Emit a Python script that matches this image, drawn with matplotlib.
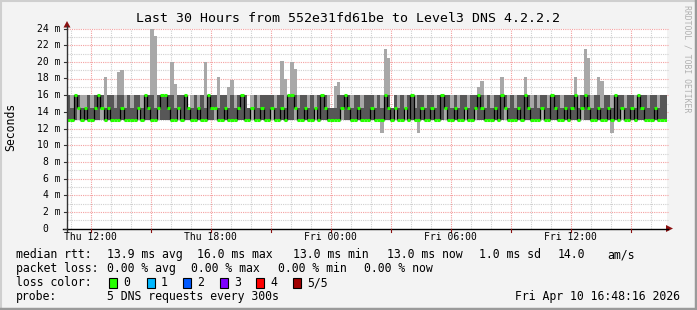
import datetime as dt
import numpy as np
import matplotlib
matplotlib.use("Agg")
import matplotlib.pyplot as plt
from matplotlib.lines import Line2D
from matplotlib.patches import Polygon, Rectangle

# 30 hours, one value every 10 minutes (ms)
start = dt.datetime(2026, 4, 9, 10, 48, 16)
hours = 30

# upper edge of the outer smoke band (slowest ping)
hi = [16, 16, 16, 16, 16, 16, 16, 16, 16, 16, 16, 18.2, 16, 16, 16, 18.8, 19.0, 16, 16, 16,
      16, 16, 16, 16, 16, 24.0, 23.1, 16, 16, 16,
      16, 20.0, 17.4, 16, 16, 16, 14.5, 16, 16, 16, 16, 20.0, 16, 16, 16, 18.2, 16, 16, 17.0, 17.8,
      16, 16, 16, 16, 14.5, 16, 16, 16, 16, 16,
      16, 16, 16, 16, 20.1, 17.9, 16, 20.0, 19.1, 16, 16, 16, 16, 16, 16, 16, 16, 16, 16, 14.5,
      17.1, 17.6, 16, 16, 16, 16, 16, 16, 16, 16,
      16, 16, 16, 16, 16, 21.6, 20.5, 14.5, 16, 16, 16, 16, 16, 16, 16, 16, 16, 16, 16, 16,
      16, 16, 16, 16, 16, 16, 16, 16, 16, 16,
      16, 16, 16, 17.0, 17.7, 16, 16, 16, 16, 16, 18.2, 16, 16, 16, 16, 16, 16, 18.2, 16, 16,
      16, 16, 16, 16, 16, 16, 16, 16, 16, 16,
      16, 16, 18.2, 16, 16, 21.6, 20.5, 16, 16, 18.2, 17.7, 16, 16, 16, 16, 16, 16, 16, 16, 16,
      16, 16, 16, 16, 16, 16, 16, 16, 16, 16]

# upper edge of the inner band (4th ping)
up = [16, 14.5, 16, 16, 14.5, 14.5, 16, 14.5, 16, 16, 16, 14.5, 16, 16, 14.5, 16, 16, 14.5, 16, 14.5,
      16, 16, 14.5, 16, 16, 16, 14.5, 16, 16, 16,
      16, 16, 14.5, 16, 16, 16, 14.5, 14.5, 16, 14.5, 16, 14.5, 16, 16, 16, 14.5, 16, 16, 14.5, 16,
      14.5, 16, 16, 16, 14.5, 14.5, 16, 14.5, 16, 16,
      16, 16, 14.5, 16, 16, 14.5, 16, 16, 16, 14.5, 16, 16, 14.5, 16, 14.5, 16, 16, 16, 14.5, 14.5,
      14.5, 16, 16, 16, 16, 14.5, 16, 16, 14.5, 16,
      16, 16, 14.5, 16, 14.5, 16, 16, 14.5, 16, 14.5, 16, 14.5, 16, 16, 14.5, 16, 16, 14.5, 16, 16,
      14.5, 16, 16, 16, 16, 14.5, 16, 14.5, 16, 16,
      14.5, 16, 16, 16, 16, 14.5, 16, 14.5, 16, 16, 16, 16, 14.5, 16, 14.5, 16, 16, 16, 16, 14.5,
      16, 14.5, 16, 16, 14.5, 16, 16, 16, 14.5, 16,
      16, 16, 16, 14.5, 16, 16, 16, 14.5, 16, 16, 14.5, 16, 16, 14.5, 16, 16, 16, 14.5, 16, 16,
      14.5, 16, 16, 16, 14.5, 16, 16, 14.5, 16, 16]

# median rtt
med = [13, 13, 16, 14.5, 13, 14.5, 13, 13, 14.5, 16, 14.5, 13, 14.5, 13, 13, 13, 14.5, 13, 13, 13,
       13, 14.5, 13, 16, 14.5, 13, 13, 14.5, 16, 16,
       14.5, 13, 13, 14.5, 13, 16, 14.5, 13, 13, 14.5, 13, 13, 16, 14.5, 14.5, 13, 13, 14.5, 13, 13,
       13, 14.5, 16, 13, 13, 14.5, 13, 13, 14.5, 13,
       13, 14.5, 13, 13, 14.5, 13, 16, 16, 14.5, 13, 13, 14.5, 13, 13, 14.5, 13, 16, 14.5, 13, 13,
       13, 13, 14.5, 16, 14.5, 13, 13, 14.5, 13, 13,
       13, 14.5, 13, 13, 13, 16, 14.5, 13, 14.5, 13, 13, 14.5, 13, 16, 13, 13, 14.5, 13, 13, 14.5,
       13, 13, 16, 14.5, 13, 13, 14.5, 13, 13, 14.5,
       13, 13, 14.5, 16, 14.5, 13, 13, 13, 14.5, 13, 16, 14.5, 13, 13, 13, 14.5, 13, 16, 14.5, 13,
       13, 13, 14.5, 13, 13, 16, 14.5, 13, 13, 14.5,
       13, 14.5, 16, 13, 14.5, 16, 14.5, 13, 13, 14.5, 13, 13, 14.5, 13, 16, 13, 14.5, 13, 13, 14.5,
       13, 16, 14.5, 13, 13, 13, 14.5, 13, 13, 13]

# lower edge of the inner band (2nd ping)
dn = [13, 13, 13, 14.5, 13, 13, 13, 13, 13, 13, 14.5, 13, 13, 13, 13, 13, 13, 13, 13, 13,
      13, 14.5, 13, 13, 13, 13, 13, 14.5, 13, 13,
      13, 13, 13, 14.5, 13, 13, 13, 13, 13, 13, 13, 13, 13, 13, 14.5, 13, 13, 13, 13, 13,
      13, 13, 13, 13, 13, 14.5, 13, 13, 13, 13,
      13, 14.5, 13, 13, 13, 13, 13, 13, 14.5, 13, 13, 13, 13, 13, 14.5, 13, 13, 13, 13, 13,
      13, 13, 14.5, 13, 13, 13, 13, 13, 13, 13,
      13, 13, 13, 13, 13, 13, 13, 13, 14.5, 13, 13, 14.5, 13, 13, 13, 13, 13, 13, 13, 13,
      13, 13, 13, 14.5, 13, 13, 13, 13, 13, 14.5,
      13, 13, 14.5, 13, 13, 13, 13, 13, 13, 13, 13, 14.5, 13, 13, 13, 13, 13, 13, 13, 13,
      13, 13, 14.5, 13, 13, 13, 13, 13, 13, 13,
      13, 13, 13, 13, 14.5, 13, 13, 13, 13, 13, 13, 13, 13, 13, 13, 13, 14.5, 13, 13, 13,
      13, 13, 13, 13, 13, 13, 13, 13, 13, 13]

# lower edge of the outer band (fastest ping)
lo = [13] * 94 + [11.5] + [13] * 10 + [11.5] + [13] * 57 + [11.5] + [13] * 16

loss_labels = ["0", "1", "2", "3", "4", "5/5"]
loss_colors = ["#26ff00", "#00b8ff", "#0059ff", "#7e00ff", "#ff0000", "#a00000"]

W, H = 697, 310
X0, X1, Y0, Y1 = 67, 667, 228.5, 28.5


def fx(x):
    return x / W


def fy(y):
    return 1 - y / H


mono = "DejaVu Sans Mono"
fig = plt.figure(figsize=(W / 100, H / 100), dpi=100, facecolor="#f3f3f3")
ax = fig.add_axes([fx(X0), fy(Y0), (X1 - X0) / W, (Y0 - Y1) / H])
ax.set_facecolor("white")
for s in ax.spines.values():
    s.set_visible(False)
ax.set_xticks([])
ax.set_yticks([])
ax.set_xlim(0, hours)
ax.set_ylim(0, 24)

# grid
dot = (0, (1, 1))
for v in range(1, 25):
    c = "#f4a0a0" if v % 2 == 0 else "#d0d0d0"
    ax.plot([0, hours + 0.05], [v, v], color=c, lw=0.8, ls=dot, clip_on=False, zorder=1)
first = (start.replace(minute=0, second=0) + dt.timedelta(hours=1))
t = first
while t < start + dt.timedelta(hours=hours):
    x = (t - start).total_seconds() / 3600
    c = "#f4a0a0" if t.hour % 3 == 0 else "#d0d0d0"
    ax.plot([x, x], [0, 24], color=c, lw=0.8, ls=dot, clip_on=False, zorder=1)
    t += dt.timedelta(hours=1)

# smoke + median
n = len(med)
edges = np.linspace(0, hours, n + 1)
def ext(a):
    return np.append(a, a[-1])
ax.fill_between(edges, ext(lo), ext(hi), step="post", color="#a8a8a8", lw=0, zorder=2)
ax.fill_between(edges, ext(dn), ext(up), step="post", color="#575757", lw=0, zorder=3)
med_a = np.array(med)
jumps = np.nonzero(np.diff(med_a))[0]
ax.vlines(edges[jumps + 1], med_a[jumps], med_a[jumps + 1], color="black", lw=0.9, zorder=4)
ax.hlines(med_a, edges[:-1], edges[1:], color=loss_colors[0], lw=2.2, zorder=5)

# axes with arrows
axis_c = "#333333"
fig.add_artist(Line2D([fx(X0), fx(X0)], [fy(Y0 + 2), fy(26)], color=axis_c, lw=1))
fig.add_artist(Line2D([fx(63), fx(668)], [fy(Y0), fy(Y0)], color="black", lw=1))
fig.add_artist(Polygon([[fx(X0), fy(21)], [fx(X0 - 3.5), fy(27.5)], [fx(X0 + 3.5), fy(27.5)]],
                       closed=True, color="#8b1010", lw=0))
fig.add_artist(Polygon([[fx(673), fy(Y0)], [fx(666), fy(Y0 - 3.5)], [fx(666), fy(Y0 + 3.5)]],
                       closed=True, color="#8b1010", lw=0))

# y labels
for v in range(0, 25, 2):
    y = Y0 - v * (Y0 - Y1) / 24
    fig.add_artist(Line2D([fx(64), fx(X0)], [fy(y), fy(y)], color=axis_c, lw=0.8))
    if v == 0:
        fig.text(fx(48.5), fy(y), "0", ha="right", va="center", family=mono, fontsize=7)
    else:
        fig.text(fx(60.5), fy(y), f"{v} m", ha="right", va="center", family=mono, fontsize=7)

# x labels
t = first
while t < start + dt.timedelta(hours=hours):
    x = X0 + (t - start).total_seconds() / 3600 * (X1 - X0) / hours
    if t.hour % 3 == 0:
        fig.add_artist(Line2D([fx(x), fx(x)], [fy(Y0), fy(Y0 + 3)], color="#8b1010", lw=0.8))
    if t.hour % 6 == 0:
        fig.text(fx(x), fy(237.5), t.strftime("%a %H:%M"), ha="center", va="center",
                 family=mono, fontsize=7)
    t += dt.timedelta(hours=1)

fig.text(fx(348.5), fy(19), "Last 30 Hours from 552e31fd61be to Level3 DNS 4.2.2.2",
         ha="center", va="center", family=mono, fontsize=9.5)
fig.text(fx(11), fy(127), "Seconds", rotation=90, ha="center", va="center",
         family=mono, fontsize=8.3)
fig.text(fx(687), fy(59), "RRDTOOL / TOBI OETIKER", rotation=270, ha="center", va="center",
         family=mono, fontsize=5.9, color="#b0b0b0")

# legend
fs = 8.3
rows = [254.5, 268.5, 282.5, 296.5]
rtt_items = [(16, "median rtt:"), (107, "13.9 ms avg"), (197, "16.0 ms max"), (293, "13.0 ms min"),
             (387, "13.0 ms now"), (479, "1.0 ms sd"), (558, "14.0"), (607, "am/s")]
loss_items = [(16, "packet loss:"), (107, "0.00 % avg"), (191, "0.00 % max"),
              (278, "0.00 % min"), (364, "0.00 % now")]
for x, s in rtt_items:
    fig.text(fx(x), fy(rows[0]), s, ha="left", va="center", family=mono, fontsize=fs)
for x, s in loss_items:
    fig.text(fx(x), fy(rows[1]), s, ha="left", va="center", family=mono, fontsize=fs)
fig.text(fx(16), fy(rows[2]), "loss color:", ha="left", va="center", family=mono, fontsize=fs)
box_x = [109, 147, 183, 220, 256, 293]
for bx, lab, col in zip(box_x, loss_labels, loss_colors):
    fig.add_artist(Rectangle((fx(bx), fy(rows[2] + 5)), 8 / W, 10 / H, facecolor=col,
                             edgecolor="black", lw=0.8))
    fig.text(fx(bx + 14), fy(rows[2]), lab, ha="left", va="center", family=mono, fontsize=fs)
fig.text(fx(16), fy(rows[3]), "probe:", ha="left", va="center", family=mono, fontsize=fs)
fig.text(fx(107), fy(rows[3]), "5 DNS requests every 300s", ha="left", va="center",
         family=mono, fontsize=fs)
fig.text(fx(680), fy(rows[3]), (start + dt.timedelta(hours=hours)).strftime("%a %b %d %H:%M:%S %Y"),
         ha="right", va="center", family=mono, fontsize=fs)

# image frame
fig.add_artist(Line2D([fx(0), fx(W)], [fy(0.5), fy(0.5)], color="#cfcfcf", lw=1.5))
fig.add_artist(Line2D([fx(0.5), fx(0.5)], [fy(0), fy(H)], color="#cfcfcf", lw=1.5))
fig.add_artist(Line2D([fx(0), fx(W)], [fy(H - 1.5), fy(H - 1.5)], color="#9a9a9a", lw=2.5))
fig.add_artist(Line2D([fx(W - 1.5), fx(W - 1.5)], [fy(0), fy(H)], color="#9a9a9a", lw=2.5))

fig.savefig("out.png", dpi=100, facecolor=fig.get_facecolor())
